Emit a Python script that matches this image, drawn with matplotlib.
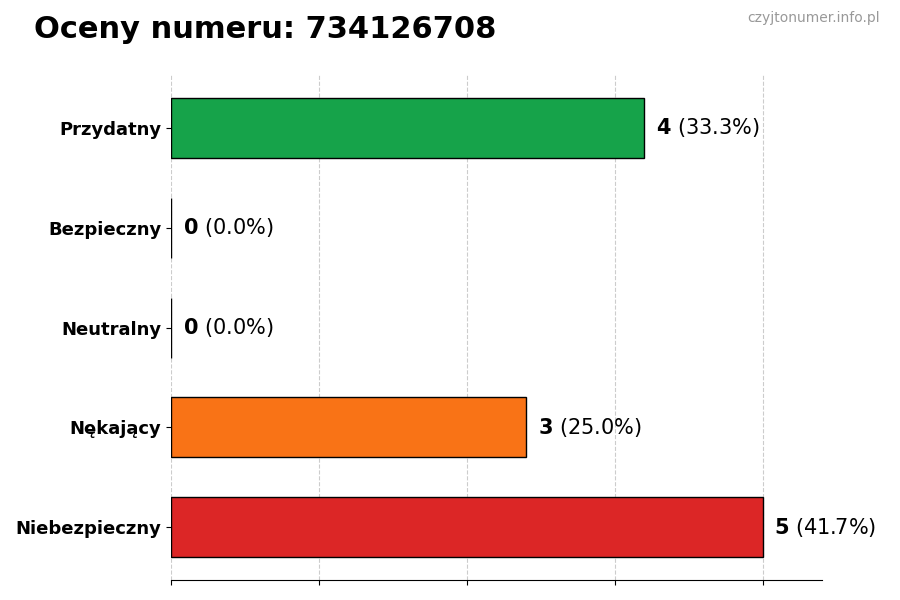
import matplotlib.pyplot as plt

categories = ['Przydatny', 'Bezpieczny', 'Neutralny', 'Nękający', 'Niebezpieczny']
counts = [4, 0, 0, 3, 5]
colors = ['#16a34a', '#16a34a', '#9ca3af', '#f97316', '#dc2626']
total = sum(counts)

fig = plt.figure(figsize=(9, 6), dpi=100)
ax = fig.add_axes([0.19, 0.033, 0.723, 0.842])

y = list(range(len(categories)))[::-1]
ax.barh(y, counts, height=0.6, color=colors, edgecolor='black', linewidth=1, zorder=3)

for yi, c in zip(y, counts):
    pct = c / total * 100
    ax.text(c + 0.1, yi, f'$\\bf{{{c}}}$ ({pct:.1f}%)', va='center', fontsize=15)

ax.set_yticks(y)
ax.set_yticklabels(categories, fontsize=13, fontweight='bold')
ax.set_xlim(0, 5.5)
ax.set_ylim(-0.53, 4.53)
ax.set_xticks([0, 1.25, 2.5, 3.75, 5])
ax.set_xticklabels([])
ax.grid(axis='x', linestyle='--', color='#cccccc', linewidth=0.8, zorder=0)
for s in ['top', 'right', 'left']:
    ax.spines[s].set_visible(False)

fig.text(0.038, 0.95, 'Oceny numeru: 734126708', fontsize=22, fontweight='bold', va='center')
fig.text(0.978, 0.97, 'czyjtonumer.info.pl', fontsize=10, color='#999999', ha='right', va='center')

plt.savefig('out.png', dpi=100)
